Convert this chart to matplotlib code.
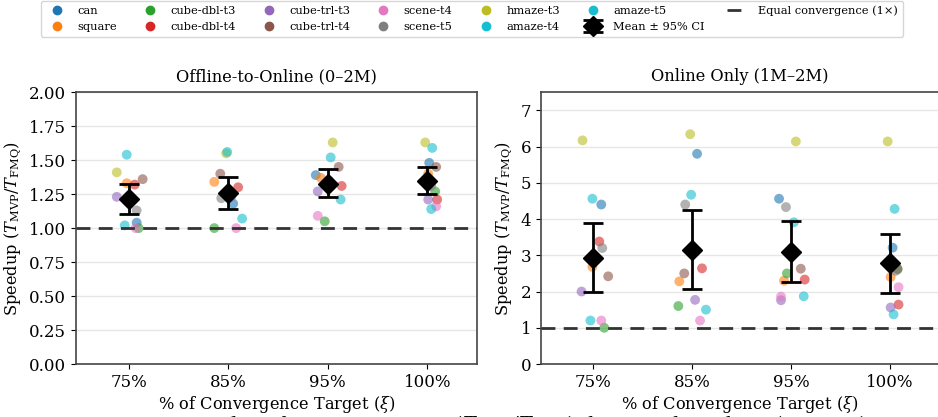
import numpy as np
import matplotlib.pyplot as plt
from matplotlib.lines import Line2D

plt.rcParams['font.family'] = 'DejaVu Serif'
plt.rcParams['mathtext.fontset'] = 'dejavuserif'

targets = ['75%', '85%', '95%', '100%']
tasks = ['can', 'square', 'cube-dbl-t3', 'cube-dbl-t4', 'cube-trl-t3', 'cube-trl-t4',
         'scene-t4', 'scene-t5', 'hmaze-t3', 'amaze-t4', 'amaze-t5']
colors = ['#1f77b4', '#ff7f0e', '#2ca02c', '#d62728', '#9467bd', '#8c564b',
          '#e377c2', '#7f7f7f', '#bcbd22', '#17becf', '#17becf']

# speedup per task (rows) at each target (cols)
off2on = np.array([
    [1.04, 1.18, 1.39, 1.48],   # can
    [1.33, 1.34, 1.37, 1.40],   # square
    [1.00, 1.00, 1.05, 1.27],   # cube-dbl-t3
    [1.32, 1.30, 1.31, 1.21],   # cube-dbl-t4
    [1.23, 1.23, 1.27, 1.21],   # cube-trl-t3
    [1.36, 1.40, 1.45, 1.45],   # cube-trl-t4
    [1.00, 1.00, 1.09, 1.16],   # scene-t4
    [1.13, 1.22, 1.35, 1.31],   # scene-t5
    [1.41, 1.55, 1.63, 1.63],   # hmaze-t3
    [1.54, 1.56, 1.52, 1.59],   # amaze-t4
    [1.02, 1.07, 1.21, 1.14],   # amaze-t5
])
online = np.array([
    [4.40, 5.80, 4.56, 3.21],   # can
    [2.68, 2.28, 2.30, 2.40],   # square
    [1.00, 1.60, 2.50, 2.61],   # cube-dbl-t3
    [3.38, 2.64, 2.33, 1.64],   # cube-dbl-t4
    [2.00, 1.77, 1.76, 1.56],   # cube-trl-t3
    [2.42, 2.50, 2.63, 2.63],   # cube-trl-t4
    [1.20, 1.20, 1.86, 2.12],   # scene-t4
    [3.20, 4.40, 4.33, 2.57],   # scene-t5
    [6.17, 6.34, 6.14, 6.14],   # hmaze-t3
    [4.56, 4.67, 3.91, 4.28],   # amaze-t4
    [1.20, 1.50, 1.87, 1.37],   # amaze-t5
])
# horizontal jitter of each task's point (as drawn)
jit_off = np.array([
    [0.08, 0.05, -0.12, 0.02],
    [-0.02, -0.14, -0.07, 0.01],
    [0.10, -0.14, -0.03, 0.08],
    [0.06, 0.10, 0.14, 0.10],
    [-0.12, 0.03, -0.10, 0.01],
    [0.14, -0.08, 0.11, 0.09],
    [0.07, 0.08, -0.10, 0.09],
    [0.08, -0.07, 0.01, 0.04],
    [-0.12, -0.02, 0.05, -0.02],
    [-0.02, -0.01, 0.03, 0.05],
    [-0.04, 0.14, 0.13, 0.04],
])
jit_on = np.array([
    [0.08, 0.05, -0.12, 0.03],
    [-0.01, -0.13, -0.07, 0.01],
    [0.11, -0.14, -0.04, 0.08],
    [0.06, 0.10, 0.14, 0.09],
    [-0.12, 0.03, -0.10, 0.01],
    [0.15, -0.08, 0.10, 0.08],
    [0.08, 0.08, -0.10, 0.09],
    [0.09, -0.07, -0.05, 0.06],
    [-0.11, -0.02, 0.05, -0.02],
    [-0.01, -0.01, 0.03, 0.05],
    [-0.03, 0.14, 0.13, 0.04],
])
mean_off = [1.214, 1.259, 1.328, 1.350]
ci_lo_off = [1.103, 1.143, 1.227, 1.249]
ci_hi_off = [1.328, 1.374, 1.433, 1.453]
mean_on = [2.914, 3.144, 3.098, 2.776]
ci_lo_on = [1.975, 2.067, 2.270, 1.966]
ci_hi_on = [3.889, 4.239, 3.945, 3.595]

fig = plt.figure(figsize=(9.38, 4.17), dpi=100)
ax1 = fig.add_axes([0.081, 0.127, 0.4275, 0.652])
ax2 = fig.add_axes([0.5768, 0.127, 0.4243, 0.652])

panels = [
    (ax1, off2on, jit_off, mean_off, ci_lo_off, ci_hi_off, 'Offline-to-Online (0–2M)', (0, 2.0)),
    (ax2, online, jit_on, mean_on, ci_lo_on, ci_hi_on, 'Online Only (1M–2M)', (0, 7.5)),
]
x = np.arange(len(targets))
for ax, vals, jit, m, lo, hi, title, ylim in panels:
    ax.grid(axis='y', color='#e6e6e6', lw=1.0)
    ax.set_axisbelow(True)
    for i, t in enumerate(tasks):
        ax.scatter(x + jit[i], vals[i], s=50, color=colors[i], alpha=0.6,
                   edgecolors='none', zorder=2)
    m = np.array(m)
    err = [m - np.array(lo), np.array(hi) - m]
    eb = ax.errorbar(x, m, yerr=err, fmt='D', color='black', ms=10, lw=2,
                     capsize=7, capthick=2, zorder=4)
    eq = ax.axhline(1.0, color='#333333', ls='--', lw=2, dashes=(5, 3), zorder=3)
    ax.set_xticks(x)
    ax.set_xticklabels(targets, fontsize=12)
    ax.tick_params(axis='y', labelsize=12)
    ax.set_xlim(-0.53, 3.5)
    ax.set_ylim(*ylim)
    ax.set_title(title, fontsize=11.7, pad=8)
    ax.set_xlabel(r'% of Convergence Target ($\xi$)', fontsize=11.7, labelpad=2)
    ax.set_ylabel(r'Speedup ($T_{\mathrm{MVP}}/T_{\mathrm{FMQ}}$)', fontsize=11.7)
    for s in ax.spines.values():
        s.set_color('#444444')
        s.set_linewidth(1.2)

ax1.set_yticks(np.arange(0, 2.01, 0.25))
ax1.set_yticklabels(['%.2f' % v for v in np.arange(0, 2.01, 0.25)])
ax2.set_yticks(range(0, 8))

handles = [Line2D([], [], ls='none', marker='o', ms=6, color=c) for c in colors]
handles += [eb, eq]
labels = tasks + ['Mean ± 95% CI', 'Equal convergence (1×)']
fig.legend(handles, labels, loc='upper center', ncol=7,
           bbox_to_anchor=(0.503, 1.0), borderaxespad=0.1, fontsize=8.2,
           frameon=True, edgecolor='#cccccc', columnspacing=1.9,
           handlelength=2.0, handletextpad=0.8)

# caption of the page, cut off by the bottom edge as in the screenshot
fig.text(-0.055, -0.036, r'Figure 18: Convergence speedup of FMQ over MVP ($T_{\mathrm{MVP}}/T_{\mathrm{FMQ}}$) during online phase (1M–2M)',
         fontsize=17, family='Liberation Serif', math_fontfamily='stix',
         va='baseline', ha='left')

fig.savefig('out.png', dpi=100)
